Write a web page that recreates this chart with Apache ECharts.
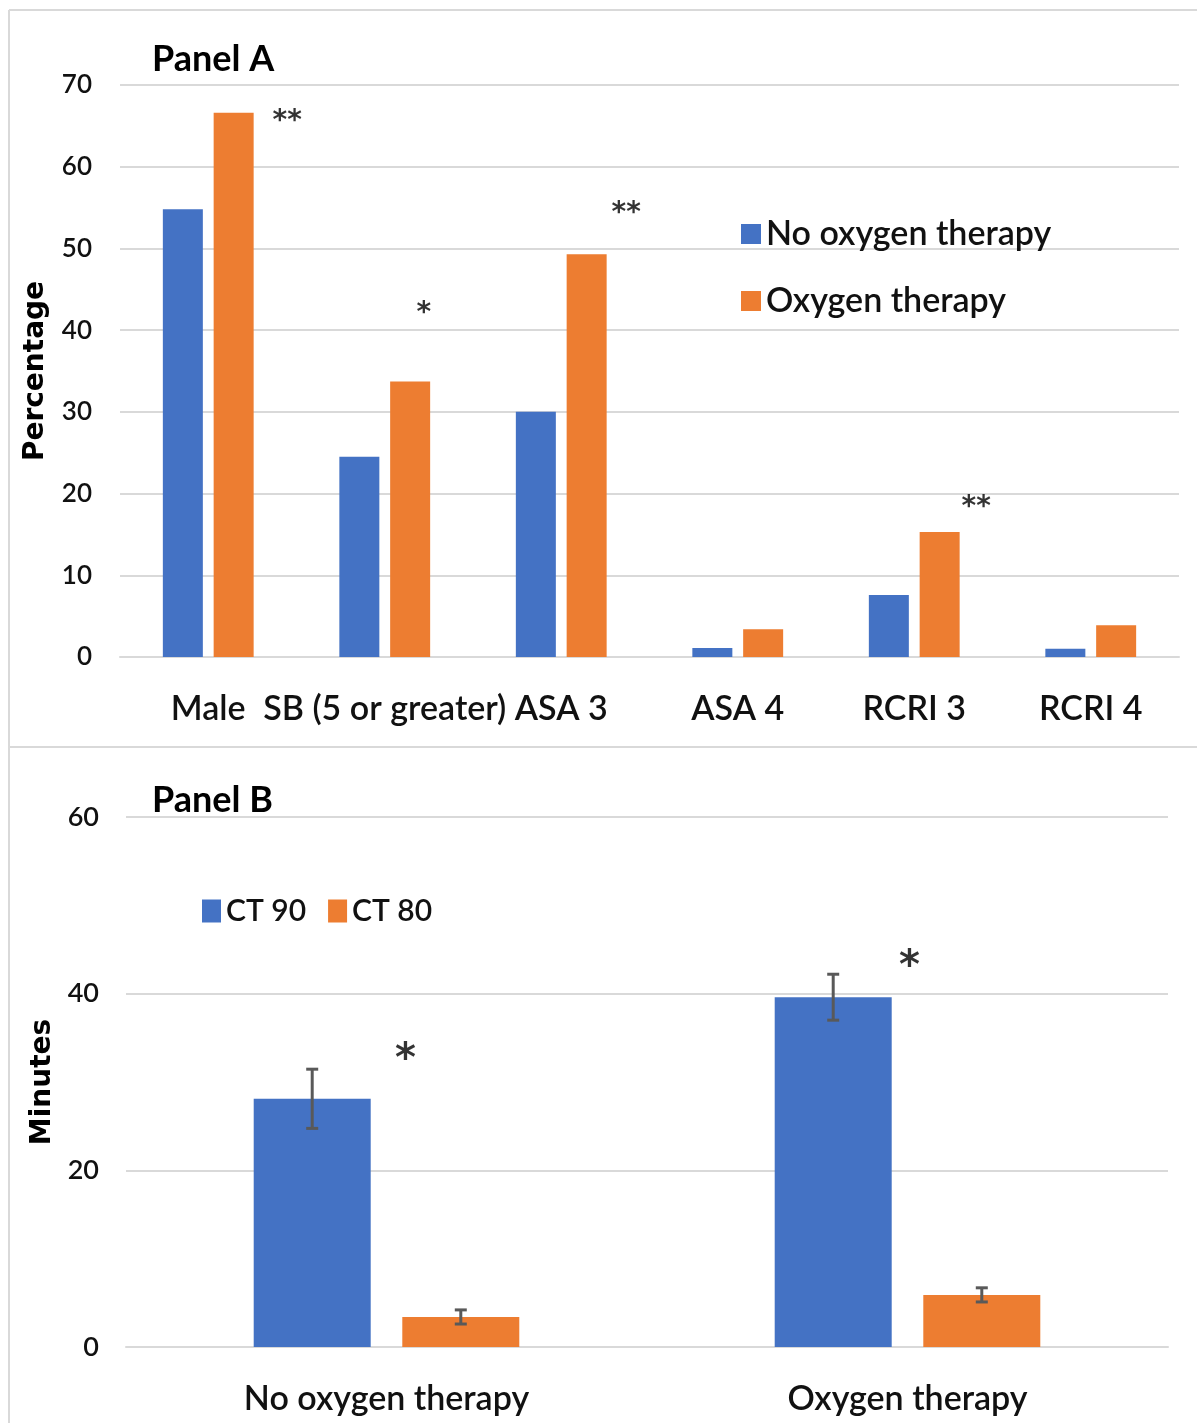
<!DOCTYPE html>
<html><head><meta charset="utf-8">
<script src="https://cdn.jsdelivr.net/npm/echarts@6/dist/echarts.min.js"></script>
<style>html,body{margin:0;padding:0;background:#fff}#c{width:1197px;height:1423px}</style>
</head><body><div id="c"></div>
<script>
// ---------- Panel A data ----------
const catsA = ['Male', 'SB (5 or greater)', 'ASA 3', 'ASA 4', 'RCRI 3', 'RCRI 4'];
const noOxygen = [54.8, 24.5, 30.0, 1.1, 7.6, 1.0];
const oxygenTh = [66.6, 33.7, 49.3, 3.4, 15.3, 3.9];
const sigACats = ['Male', 'SB (5 or greater)', 'ASA 3', 'RCRI 3'];
const sigAText = ['**', '*', '**', '**'];
const sigAY = [66.3, 42.8, 55.0, 19.0];

// ---------- Panel B data ----------
const catsB = ['No oxygen therapy', 'Oxygen therapy'];
const ct90 = [28.1, 39.6];
const ct90Err = [3.35, 2.6];
const ct80 = [3.4, 5.9];
const ct80Err = [0.8, 0.8];
const sigBCats = ['No oxygen therapy', 'Oxygen therapy'];
const sigBText = ['*', '*'];
const sigBY = [33.3, 43.8];

// ---------- styles ----------
const BLUE = '#4472C4', ORANGE = '#ED7D31', GRID = '#d9d9d9', TXT = '#111';
const FONT = 'Lato', W = 600;
const sigADx = [79, 39, 65, 62];
const sigADy = [6, 6, 6, 6];
const sigBDx = [19, 2];
const sigBDy = [8, 8];
const BAR_W_B = 117, BAR_GAP_B = 0.27;
const BAR_OFF_B = (BAR_W_B + BAR_W_B * BAR_GAP_B) / 2;

const chart = echarts.init(document.getElementById('c'), null, {renderer: 'canvas'});

function errorSeries(vals, errs, side) {
  return {
    type: 'custom', xAxisIndex: 1, yAxisIndex: 1, z: 5, silent: true,
    data: vals.map((v, i) => [i, v - errs[i], v + errs[i]]),
    encode: {x: 0, y: [1, 2]},
    renderItem(params, api) {
      const lo = api.coord([api.value(0), api.value(1)]);
      const hi = api.coord([api.value(0), api.value(2)]);
      const x = lo[0] + side * BAR_OFF_B;
      const cap = 6;
      const style = {stroke: '#595959', lineWidth: 3};
      return {type: 'group', children: [
        {type: 'line', shape: {x1: x, y1: lo[1], x2: x, y2: hi[1]}, style},
        {type: 'line', shape: {x1: x - cap, y1: hi[1], x2: x + cap, y2: hi[1]}, style},
        {type: 'line', shape: {x1: x - cap, y1: lo[1], x2: x + cap, y2: lo[1]}, style}
      ]};
    }
  };
}

function sigSeries(cats, ys, texts, dxs, dys, xi, size) {
  return {
    type: 'scatter', xAxisIndex: xi, yAxisIndex: xi, symbolSize: 1, silent: true, z: 6,
    itemStyle: {color: 'rgba(0,0,0,0)'},
    data: cats.map((c, i) => ({
      value: [c, ys[i]],
      label: {show: true, formatter: texts[i], position: 'inside', offset: [dxs[i], dys[i]],
        fontSize: size, color: '#000', fontFamily: 'DejaVu Sans', fontWeight: 'bold'}
    }))
  };
}

const option = {
  backgroundColor: '#fff',
  animation: false,
  textStyle: {fontFamily: FONT},
  title: [
    {text: 'Panel A', left: 147, top: 36, textStyle: {fontFamily: FONT, fontWeight: 'bold', fontSize: 36, color: '#000'}},
    {text: 'Panel B', left: 147, top: 777, textStyle: {fontFamily: FONT, fontWeight: 'bold', fontSize: 36, color: '#000'}}
  ],
  legend: [
    {data: ['No oxygen therapy', 'Oxygen therapy'], orient: 'vertical', left: 736, top: 212,
     itemWidth: 20, itemHeight: 20, itemGap: 33, icon: 'rect', itemTextGap: 9,
     textStyle: {fontFamily: FONT, fontWeight: W, fontSize: 34, color: TXT}},
    {data: ['CT 90', 'CT 80'], orient: 'horizontal', left: 197, top: 891,
     itemWidth: 19, itemHeight: 23, itemGap: 22, icon: 'rect', itemTextGap: 8,
     textStyle: {fontFamily: FONT, fontWeight: W, fontSize: 30, color: TXT}}
  ],
  grid: [
    {left: 120, top: 85, width: 1059, height: 572},
    {left: 126, top: 817, width: 1042, height: 530}
  ],
  xAxis: [
    {type: 'category', gridIndex: 0, data: catsA,
     axisLine: {lineStyle: {color: GRID, width: 2}}, axisTick: {show: false},
     axisLabel: {interval: 0, fontSize: 34, fontWeight: W, color: TXT, margin: 35, fontFamily: FONT}},
    {type: 'category', gridIndex: 1, data: catsB,
     axisLine: {lineStyle: {color: GRID, width: 2}}, axisTick: {show: false},
     axisLabel: {interval: 0, fontSize: 34, fontWeight: W, color: TXT, margin: 35, fontFamily: FONT}}
  ],
  yAxis: [
    {type: 'value', gridIndex: 0, min: 0, max: 70, interval: 10,
     name: 'Percentage', nameLocation: 'middle', nameGap: 70, nameRotate: 90,
     nameTextStyle: {fontFamily: 'DejaVu Sans', fontWeight: 'bold', fontSize: 28, color: '#000'},
     axisLine: {show: false}, axisTick: {show: false},
     splitLine: {lineStyle: {color: GRID, width: 2}},
     axisLabel: {fontSize: 26, fontWeight: W, color: TXT, margin: 28, fontFamily: FONT}},
    {type: 'value', gridIndex: 1, min: 0, max: 60, interval: 20,
     name: 'Minutes', nameLocation: 'middle', nameGap: 68, nameRotate: 90,
     nameTextStyle: {fontFamily: 'DejaVu Sans', fontWeight: 'bold', fontSize: 28, color: '#000'},
     axisLine: {show: false}, axisTick: {show: false},
     splitLine: {lineStyle: {color: GRID, width: 2}},
     axisLabel: {fontSize: 27, fontWeight: W, color: TXT, margin: 27, fontFamily: FONT}}
  ],
  series: [
    {name: 'No oxygen therapy', type: 'bar', xAxisIndex: 0, yAxisIndex: 0, data: noOxygen,
     itemStyle: {color: BLUE}, barWidth: 40, barGap: '27%'},
    {name: 'Oxygen therapy', type: 'bar', xAxisIndex: 0, yAxisIndex: 0, data: oxygenTh,
     itemStyle: {color: ORANGE}, barWidth: 40, barGap: '27%'},
    {name: 'CT 90', type: 'bar', xAxisIndex: 1, yAxisIndex: 1, data: ct90,
     itemStyle: {color: BLUE}, barWidth: BAR_W_B, barGap: (BAR_GAP_B * 100) + '%'},
    {name: 'CT 80', type: 'bar', xAxisIndex: 1, yAxisIndex: 1, data: ct80,
     itemStyle: {color: ORANGE}, barWidth: BAR_W_B, barGap: (BAR_GAP_B * 100) + '%'},
    errorSeries(ct90, ct90Err, -1),
    errorSeries(ct80, ct80Err, 1),
    sigSeries(sigACats, sigAY, sigAText, sigADx, sigADy, 0, 28),
    sigSeries(sigBCats, sigBY, sigBText, sigBDx, sigBDy, 1, 40)
  ],
  graphic: [
    {type: 'line', shape: {x1: 9, y1: 10, x2: 1197, y2: 10}, style: {stroke: GRID, lineWidth: 2}, silent: true},
    {type: 'line', shape: {x1: 9, y1: 10, x2: 9, y2: 1423}, style: {stroke: GRID, lineWidth: 2}, silent: true},
    {type: 'line', shape: {x1: 9, y1: 747, x2: 1197, y2: 747}, style: {stroke: GRID, lineWidth: 2}, silent: true}
  ]
};
chart.setOption(option);
</script>
</body></html>
